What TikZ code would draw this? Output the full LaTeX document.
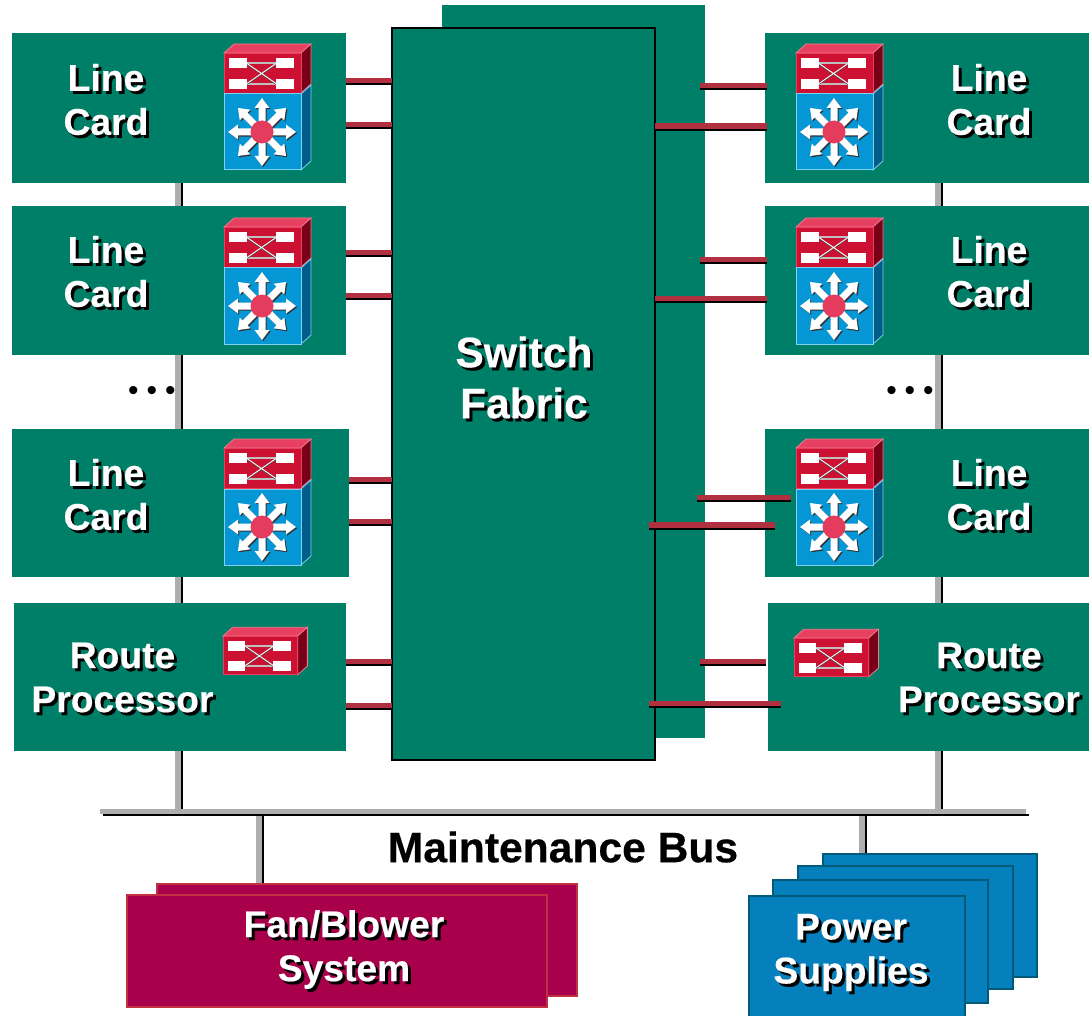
\documentclass[tikz,border=0pt]{standalone}
\usepackage{fontspec}
\setmainfont[BoldFeatures={FakeBold=0.4}]{Liberation Sans}
\newcommand{\shtext}[1]{\makebox[0pt][l]{\raisebox{-3pt}{\hspace{3pt}\textcolor{black}{#1}}}\textcolor{white}{#1}}
\definecolor{cgreen}{HTML}{007F68}
\definecolor{cgray}{HTML}{AEAEAE}
\definecolor{clink}{HTML}{B03040}
\definecolor{cfan}{HTML}{A8004A}
\definecolor{cfanb}{HTML}{C03040}
\definecolor{cpow}{HTML}{0680BC}
\definecolor{cpowb}{HTML}{005A78}
\definecolor{cfront}{HTML}{CC1133}
\definecolor{ctop}{HTML}{E84060}
\definecolor{cside}{HTML}{7A0018}
\definecolor{cblue}{HTML}{0596D6}
\definecolor{cblueb}{HTML}{80D0F0}
\definecolor{cblueside}{HTML}{005C88}
\tikzset{
  x=1pt,y=-1pt,
  greenbox/.style={fill=cgreen,draw=none,inner sep=0pt,outer sep=0pt},
  fabricbox/.style={fill=cgreen,draw=black,line width=2pt,inner sep=0pt,outer sep=0pt},
  fanbox/.style={fill=cfan,draw=cfanb,line width=1.5pt,inner sep=0pt,outer sep=0pt},
  powbox/.style={fill=cpow,draw=cpowb,line width=2pt,inner sep=0pt,outer sep=0pt},
  lbl/.style={align=center,inner sep=0pt,font=\bfseries\fontsize{37.2}{44}\selectfont},
  lblb/.style={align=center,inner sep=0pt,font=\bfseries\fontsize{42.5}{51}\selectfont},
  buslabel/.style={inner sep=0pt,text=black,font=\bfseries\fontsize{42.6}{48}\selectfont},
  dots/.style={inner sep=0pt,text=black,font=\fontsize{30}{30}\selectfont},
  linkred/.style={draw=clink,line width=5.5pt},
  linkblk/.style={draw=black,line width=2.5pt},
  busgray/.style={draw=cgray,line width=6pt},
  busblk/.style={draw=black,line width=2.5pt},
  pics/router/.style={code={
    \fill[ctop,draw=ctop!70!white,line width=.8pt] (0,0)--(10,-9)--(87,-9)--(77,0)--cycle;
    \fill[cside,draw=ctop!70!white,line width=.8pt] (77,0)--(87,-9)--(87,31)--(77,40)--cycle;
    \fill[cfront,draw=ctop,line width=.8pt] (0,0) rectangle (77,40);
    \draw[white!75!black,line width=1.6pt] (23,10)--(52,10) (23,31)--(52,31);
    \draw[black!70,line width=1.5pt] (23,11)--(52,31) (23,31)--(52,11);
    \draw[white,line width=.9pt] (23,10.5)--(52,30.5) (23,30.5)--(52,10.5);
    \foreach \rx/\ry in {5/5,52/5,5/26,52/26}{
      \fill[white] (\rx,\ry) rectangle ++(18,10);
    }
  }},
  pics/blueface/.style={code={
    \fill[cblueside,draw=cblueb,line width=.8pt] (77,0)--(87,-9)--(87,67)--(77,76)--cycle;
    \fill[cblue,draw=cblueb,line width=1pt] (0,0) rectangle (77,76);
    \begin{scope}[shift={(38,38)}]
      \foreach \a in {0,45,...,315}{
        \fill[black!80,shift={(1.2,1.2)},rotate=\a] (10,-3.5)--(24,-3.5)--(24,-7.5)--(34,0)--(24,7.5)--(24,3.5)--(10,3.5)--cycle;
        \fill[white,rotate=\a] (10,-3.5)--(24,-3.5)--(24,-7.5)--(34,0)--(24,7.5)--(24,3.5)--(10,3.5)--cycle;
      }
      \fill[ctop!90!cfront] (0,0) circle (11.5);
    \end{scope}
  }},
}
\newcommand{\boxat}[6]{% style name x1 y1 x2 y2
  \pgfmathsetmacro{\bw}{#5-#3}\pgfmathsetmacro{\bh}{#6-#4}
  \pgfmathsetmacro{\bcx}{(#3+#5)/2}\pgfmathsetmacro{\bcy}{(#4+#6)/2}
  \node[#1,minimum width=\bw pt,minimum height=\bh pt] (#2) at (\bcx,\bcy) {};
}
\newcommand{\linkdraw}[2]{% from to
  \draw[linkblk] ([yshift=-3.5pt]#1) -- ([yshift=-3.5pt]#2);
  \draw[linkred] (#1) -- (#2);
}
\newcommand{\busdraw}[2]{%
  \draw[busblk] ([xshift=3.5pt]#1) -- ([xshift=3.5pt]#2);
  \draw[busgray] (#1) -- (#2);
}
\begin{document}
\begin{tikzpicture}
\useasboundingbox (0,0) rectangle (1089,1016);
% maintenance bus
\coordinate (busW) at (100,811.5);
\coordinate (busE) at (1026,811.5);
\coordinate (busLtop) at (178,183);
\coordinate (busLbot) at (178,809);
\coordinate (busRtop) at (938,183);
\coordinate (busRbot) at (938,809);
\coordinate (dropFtop) at (259,814);
\coordinate (dropFbot) at (259,884);
\coordinate (dropPtop) at (862,814);
\coordinate (dropPbot) at (862,854);
\busdraw{busLtop}{busLbot}
\busdraw{busRtop}{busRbot}
\busdraw{dropFtop}{dropFbot}
\busdraw{dropPtop}{dropPbot}
\draw[busblk] ([shift={(3,3.5)}]busW) -- ([shift={(2.5,3.5)}]busE);
\draw[draw=cgray,line width=5pt] (busW) -- (busE);
% fabric back
\boxat{greenbox}{fabricback}{442}{5}{705}{738}
% cards
\boxat{greenbox}{cardLa}{12}{33}{346}{183}
\boxat{greenbox}{cardLb}{12}{206}{346}{355}
\boxat{greenbox}{cardLc}{12}{429}{349}{577}
\boxat{greenbox}{cardLd}{14}{603}{346}{751}
\boxat{greenbox}{cardRa}{765}{33}{1089}{183}
\boxat{greenbox}{cardRb}{765}{206}{1089}{355}
\boxat{greenbox}{cardRc}{765}{429}{1089}{577}
\boxat{greenbox}{cardRd}{768}{603}{1089}{751}
% fabric front
\boxat{fabricbox}{fabric}{392}{28}{655}{760}
% lower boxes
\boxat{fanbox}{fanback}{157}{884}{577}{996}
\boxat{fanbox}{fanfront}{127}{895}{547}{1007}
\boxat{powbox}{powd}{823}{854}{1037}{977}
\boxat{powbox}{powc}{798}{866}{1013}{989}
\boxat{powbox}{powb}{773}{880}{988}{1003}
\boxat{powbox}{powa}{749}{896}{965}{1020}
% icons
\foreach \ix/\iy in {224/53,224/227,224/448,796/53,796/227,796/448}{
  \pic at (\ix,\iy) {router};
  \pic at (\ix,\iy+41) {blueface};
}
\pic[scale=.97] at (223,636) {router};
\pic[scale=.97] at (794,638) {router};
% left links
\foreach \nm/\yy in {cardLa/80.5,cardLa/124.5,cardLb/252.5,cardLb/295.5,cardLc/479.5,cardLc/521.5,cardLd/661.5,cardLd/705.5}{
  \linkdraw{\nm.east |- 0,\yy}{fabric.west |- 0,\yy}
}
% right links
\foreach \xa/\xb/\yy in {700/767/85.5,700/767/259.5,697/791/497.5,700/766/661.5}{
  \coordinate (ra) at (\xa,\yy);
  \coordinate (rb) at (\xb,\yy);
  \linkdraw{ra}{rb}
}
\foreach \xb/\yy in {767/126,767/298.5}{
  \coordinate (rb) at (\xb,\yy);
  \linkdraw{fabric.east |- 0,\yy}{rb}
}
\foreach \xb/\yy in {775/525,781/703.5}{
  \coordinate (ra) at (649,\yy);
  \coordinate (rb) at (\xb,\yy);
  \linkdraw{ra}{rb}
}
% labels
\foreach \nm/\xx/\yy in {la/106/101,lb/106/273,lc/106/496,ra/989/101,rb/989/273,rc/989/496}{
  \node[lbl] (t\nm) at (\xx,\yy) {\shtext{Line}\\\shtext{Card}};
}
\node[lbl] (tld) at (122.5,679) {\shtext{Route}\\\shtext{Processor}};
\node[lbl] (trd) at (989,679) {\shtext{Route}\\\shtext{Processor}};
\node[lblb] (tfab) at (524,379) {\shtext{Switch}\\\shtext{Fabric}};
\node[buslabel] (tbus) at (563,847) {Maintenance Bus};
\node[lbl] (tfan) at (344,951) {\shtext{Fan/Blower}\\\shtext{System}};
\node[lbl] (tpow) at (851,954) {\shtext{Power}\\\shtext{Supplies}};
\node[dots] (dotsL) at (152,393) {•\hspace{8pt}•\hspace{8pt}•};
\node[dots] (dotsR) at (910,393) {•\hspace{8pt}•\hspace{8pt}•};
\end{tikzpicture}
\end{document}
